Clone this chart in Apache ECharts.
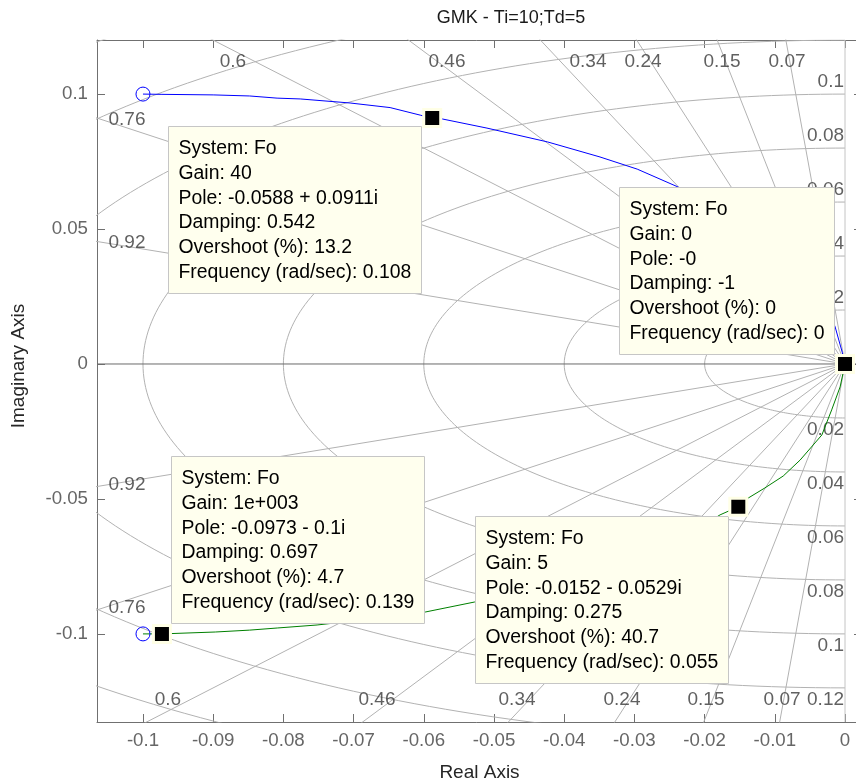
<!DOCTYPE html>
<html><head><meta charset="utf-8">
<script src="https://cdn.jsdelivr.net/npm/echarts@6/dist/echarts.min.js"></script>
<style>html,body{margin:0;padding:0;background:#fff}#c{width:856px;height:783px}</style>
</head><body><div id="c"></div>
<script>
// ---------------- data ----------------
const TITLE = 'GMK - Ti=10;Td=5';
const X_NAME = 'Real Axis';
const Y_NAME = 'Imaginary Axis';
const X_TICKS = [-0.1,-0.09,-0.08,-0.07,-0.06,-0.05,-0.04,-0.03,-0.02,-0.01,0];
const X_TICK_LABELS = ['-0.1','-0.09','-0.08','-0.07','-0.06','-0.05','-0.04','-0.03','-0.02','-0.01','0'];
const Y_TICKS = [-0.1,-0.05,0,0.05,0.1];
const Y_TICK_LABELS = ['-0.1','-0.05','0','0.05','0.1'];
const ZETA = [0.07,0.15,0.24,0.34,0.46,0.6,0.76,0.92];
const WN = [0.02,0.04,0.06,0.08,0.1,0.12,0.14,0.16];
const BLUE_LOCUS = [
  [-0.1000,0.1000],[-0.0973,0.0999],[-0.0900,0.0997],[-0.0848,0.0993],[-0.0809,0.0985],
  [-0.0776,0.0982],[-0.0705,0.0967],[-0.0648,0.0950],[-0.0605,0.0922],[-0.0588,0.0911],
  [-0.0574,0.0908],[-0.0510,0.0874],[-0.0424,0.0823],[-0.0349,0.0767],[-0.0296,0.0722],
  [-0.0238,0.0656],[-0.0178,0.0559],[-0.0152,0.0529],[-0.0140,0.0500],[-0.0114,0.0459],
  [-0.0088,0.0415],[-0.0064,0.0356],[-0.0033,0.0263],[-0.0014,0.0137],[-0.0004,0.0044],[0,0]
];
const GREEN_LOCUS = [
  [-0.1000,-0.1000],[-0.0973,-0.1000],[-0.0897,-0.0993],[-0.0848,-0.0986],[-0.0808,-0.0978],
  [-0.0752,-0.0967],[-0.0677,-0.0945],[-0.0598,-0.0919],[-0.0528,-0.0882],[-0.0424,-0.0823],
  [-0.0349,-0.0767],[-0.0296,-0.0722],[-0.0238,-0.0656],[-0.0178,-0.0559],[-0.0152,-0.0529],
  [-0.0140,-0.0500],[-0.0114,-0.0459],[-0.0088,-0.0415],[-0.0064,-0.0356],[-0.0033,-0.0263],
  [-0.0019,-0.0170],[-0.0007,-0.0085],[0,0]
];
const ZEROS = [[-0.1,0.1],[-0.1,-0.1]];
const TIP_POINTS = [[-0.0588,0.0911],[0,0],[-0.0973,-0.1],[-0.0152,-0.0529]];
const TIP_TEXTS = [
  ['System: Fo','Gain: 40','Pole: -0.0588 + 0.0911i','Damping: 0.542','Overshoot (%): 13.2','Frequency (rad/sec): 0.108'],
  ['System: Fo','Gain: 0','Pole: -0','Damping: -1','Overshoot (%): 0','Frequency (rad/sec): 0'],
  ['System: Fo','Gain: 1e+003','Pole: -0.0973 - 0.1i','Damping: 0.697','Overshoot (%): 4.7','Frequency (rad/sec): 0.139'],
  ['System: Fo','Gain: 5','Pole: -0.0152 - 0.0529i','Damping: 0.275','Overshoot (%): 40.7','Frequency (rad/sec): 0.055']
];

// ---------------- layout ----------------
const X_MIN = -0.10655, X_MAX = 0.00242, Y_MIN = -0.13264, Y_MAX = 0.12004;
const GRID = {left:97, top:40, width:765, height:682};
// zeta label placement (data coords of label centres)
const ZETA_LABEL_POS = [
  ['0.6',-0.08718,0.1119],['0.46',-0.0567,0.1119],['0.34',-0.03661,0.1119],['0.24',-0.02877,0.1119],['0.15',-0.01752,0.1119],['0.07',-0.00826,0.1119],
  ['0.6',-0.09644,-0.1245],['0.46',-0.06667,-0.1245],['0.34',-0.04672,-0.1245],['0.24',-0.03177,-0.1245],['0.15',-0.0198,-0.1245],['0.07',-0.00897,-0.1245],
  ['0.76',-0.10228,0.0904],['0.92',-0.10228,0.0448],['0.92',-0.10228,-0.0448],['0.76',-0.10228,-0.0904]
];
const TIP_PLACE = [['left','below'],['left','above'],['right','above'],['left','below']];
const TIP_GAP = [[11,8],[11,10],[9,11],[10,9]];
const FONT = '"Liberation Sans", Arial, Helvetica, sans-serif';
const TIP_FS = 19.4, TICK_FS = 18.7, LBL_FS = 19;
const GRID_COLOR = '#b2b2b2';

const chart = echarts.init(document.getElementById('c'), null, {renderer:'canvas'});

function fmt(ticks, labels){ return v => { const i = ticks.findIndex(t => Math.abs(t - v) < 1e-9); return i >= 0 ? labels[i] : ''; }; }

const series = [];
// zeta rays
ZETA.forEach(z => {
  const r = 0.4, s = Math.sqrt(1 - z*z);
  series.push({type:'line', data:[[-r*z, r*s],[0,0],[-r*z,-r*s]], symbol:'none', silent:true,
    lineStyle:{color:GRID_COLOR, width:1}, z:1, clip:true});
});
// wn semicircles
WN.forEach(w => {
  const pts = [];
  for (let k = 0; k <= 180; k++) { const t = Math.PI/2 + Math.PI*k/180; pts.push([w*Math.cos(t), w*Math.sin(t)]); }
  series.push({type:'line', data:pts, symbol:'none', silent:true, lineStyle:{color:GRID_COLOR, width:1}, z:1, clip:true});
});
// imaginary axis (zeta = 0) and real axis
series.push({type:'line', data:[[0,Y_MIN],[0,Y_MAX]], symbol:'none', silent:true, lineStyle:{color:'#c4c4c4', width:1}, z:1});
series.push({type:'line', data:[[X_MIN,0],[X_MAX,0]], symbol:'none', silent:true, lineStyle:{color:'#6a6a6a', width:1}, z:2});
// zeta labels
series.push({type:'scatter', symbolSize:0, silent:true, z:3,
  data: ZETA_LABEL_POS.map(d => ({value:[d[1], d[2]], name:d[0]})),
  label:{show:true, position:'inside', formatter:p => p.name, color:'#383838', fontSize:LBL_FS, fontFamily:FONT}});
// wn labels on the imaginary axis
const wnLbl = [];
const pxPerY = GRID.height / (Y_MAX - Y_MIN);
WN.forEach(w => {
  const off = 12 / pxPerY;
  if (w + off < Y_MAX) wnLbl.push({value:[0, w], name:String(w), label:{offset:[-1,-12]}});
  if (w + off < -Y_MIN) wnLbl.push({value:[0, -w], name:String(w), label:{offset:[-1,12]}});
});
series.push({type:'scatter', symbolSize:0, silent:true, z:3, data:wnLbl,
  label:{show:true, position:'inside', align:'right', verticalAlign:'middle', formatter:p => p.name, color:'#383838', fontSize:LBL_FS, fontFamily:FONT}});
// loci
series.push({type:'line', data:BLUE_LOCUS, symbol:'none', lineStyle:{color:'#0000ff', width:1}, z:5});
series.push({type:'line', data:GREEN_LOCUS, symbol:'none', lineStyle:{color:'#008000', width:1}, z:5});
// zeros
series.push({type:'scatter', data:ZEROS, symbol:'circle', symbolSize:14,
  itemStyle:{color:'rgba(0,0,0,0)', borderColor:'#0000ff', borderWidth:1, opacity:1}, z:6});
// data tip markers
series.push({type:'scatter', data:TIP_POINTS, symbol:'rect', symbolSize:17,
  itemStyle:{color:'#000', borderColor:'#ffffe6', borderWidth:3, opacity:1}, z:60});

const axisLineStyle = {color:'#707070', width:1};
const option = {
  animation:false,
  backgroundColor:'#fff',
  grid:{left:GRID.left, top:GRID.top, width:GRID.width, height:GRID.height, containLabel:false, outerBoundsMode:'none'},
  xAxis:[
    {type:'value', min:X_MIN, max:X_MAX, position:'bottom',
     name:X_NAME, nameLocation:'middle', nameGap:41, nameTextStyle:{color:'#262626', fontSize:LBL_FS, fontFamily:FONT},
     axisLine:{show:true, onZero:false, lineStyle:axisLineStyle},
     axisTick:{show:true, inside:true, length:8, customValues:X_TICKS, lineStyle:axisLineStyle},
     axisLabel:{show:true, customValues:X_TICKS, formatter:fmt(X_TICKS, X_TICK_LABELS), margin:9, color:'#666', fontSize:TICK_FS, fontFamily:FONT},
     splitLine:{show:false}},
    {type:'value', min:X_MIN, max:X_MAX, position:'top',
     axisLine:{show:true, onZero:false, lineStyle:axisLineStyle},
     axisTick:{show:true, inside:true, length:8, customValues:X_TICKS, lineStyle:axisLineStyle},
     axisLabel:{show:false}, splitLine:{show:false}}
  ],
  yAxis:[
    {type:'value', min:Y_MIN, max:Y_MAX, position:'left',
     axisLine:{show:true, onZero:false, lineStyle:axisLineStyle},
     axisTick:{show:true, inside:true, length:8, customValues:Y_TICKS, lineStyle:axisLineStyle},
     axisLabel:{show:true, customValues:Y_TICKS, formatter:fmt(Y_TICKS, Y_TICK_LABELS), margin:9, color:'#666', fontSize:TICK_FS, fontFamily:FONT},
     splitLine:{show:false}},
    {type:'value', min:Y_MIN, max:Y_MAX, position:'right',
     axisLine:{show:true, onZero:false, lineStyle:axisLineStyle},
     axisTick:{show:true, inside:true, length:8, customValues:Y_TICKS, lineStyle:axisLineStyle},
     axisLabel:{show:false}, splitLine:{show:false}}
  ],
  series: series
};
chart.setOption(option);

// title, y-axis name and data tip boxes anchored to their markers
const ctx = document.createElement('canvas').getContext('2d');
const tipFont = TIP_FS + 'px ' + FONT;
ctx.font = tipFont;
const PAD = 10, LINE_H = 24.7;
const graphics = [
  {type:'text', x:511, y:18, z:10, style:{text:TITLE, font:'18px ' + FONT, fill:'#1a1a1a', align:'center', verticalAlign:'middle'}},
  {type:'text', x:19, y:366, rotation:Math.PI/2, z:10, style:{text:Y_NAME, font:LBL_FS + 'px ' + FONT, fill:'#262626', align:'center', verticalAlign:'middle'}}
];
TIP_POINTS.forEach((p, i) => {
  const [mx, my] = chart.convertToPixel({xAxisIndex:0, yAxisIndex:0}, p);
  const lines = TIP_TEXTS[i];
  const [gx, gy] = TIP_GAP[i];
  const w = Math.round(Math.max(...lines.map(l => ctx.measureText(l).width)) + 2*PAD);
  const h = Math.round(lines.length*LINE_H + 2*PAD - 1);
  const x = Math.round(TIP_PLACE[i][0] === 'left' ? mx - gx - w : mx + gx) + 0.5;
  const y = Math.round(TIP_PLACE[i][1] === 'below' ? my + gy : my - gy - h) + 0.5;
  graphics.push({type:'group', children:[
    {type:'rect', z:50, shape:{x:x, y:y, width:w, height:h}, style:{fill:'#ffffee', stroke:'#c6c6c6', lineWidth:1}},
    {type:'text', z:51, x:x + PAD, y:y + PAD, style:{text:lines.join('\n'), font:tipFont, fill:'#000', lineHeight:LINE_H, verticalAlign:'top', align:'left'}}
  ]});
});
chart.setOption({graphic: graphics});
</script></body></html>
